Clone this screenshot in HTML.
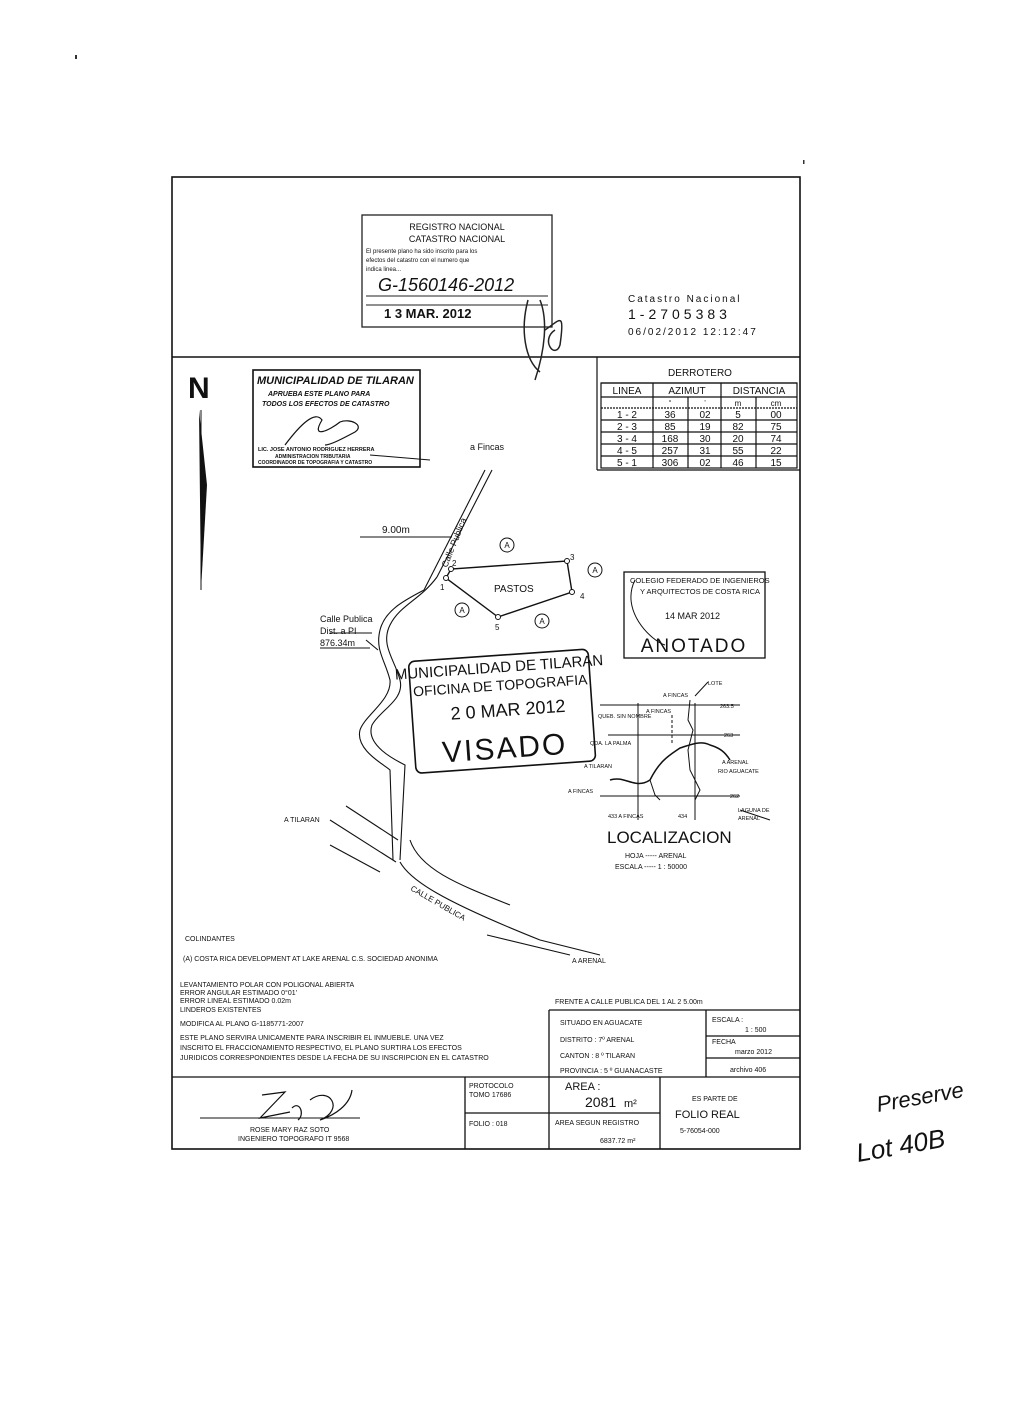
<!DOCTYPE html>
<html><head><meta charset="utf-8"><style>
html,body{margin:0;padding:0;background:#fff}
svg{display:block}
text{font-family:"Liberation Sans",sans-serif;fill:#111}
</style></head><body>
<svg width="1018" height="1408" viewBox="0 0 1018 1408" xmlns="http://www.w3.org/2000/svg">
<rect width="1018" height="1408" fill="#fff"/>
<g stroke="#111" fill="none" stroke-width="1.6">
<rect x="172" y="177" width="628" height="972"/>
<line x1="172" y1="357" x2="800" y2="357"/>
</g>
<!-- registro stamp -->
<rect x="362" y="215" width="190" height="112" fill="none" stroke="#222" stroke-width="1.3"/>
<text x="457" y="230" font-size="9" text-anchor="middle" fill="#444">REGISTRO NACIONAL</text>
<text x="457" y="242" font-size="9" text-anchor="middle" fill="#555">CATASTRO NACIONAL</text>
<text x="366" y="253" font-size="6" fill="#666">El presente plano ha sido inscrito para los</text>
<text x="366" y="262" font-size="6" fill="#666">efectos del catastro con el numero que</text>
<text x="366" y="271" font-size="6" fill="#666">indica linea...</text>
<text x="378" y="291" font-size="18" font-style="italic" fill="#222">G-1560146-2012</text>
<line x1="366" y1="296" x2="548" y2="296" stroke="#222"/>
<line x1="366" y1="305" x2="548" y2="305" stroke="#222"/>
<text x="384" y="318" font-size="13" font-weight="bold" fill="#222">1 3 MAR. 2012</text>
<path d="M528 300 C520 330 525 360 540 372 M540 300 C548 320 545 350 535 380 M545 330 C560 320 565 310 560 345 C555 360 540 340 555 330" stroke="#222" fill="none" stroke-width="1.5"/>
<text x="628" y="302" font-size="10" letter-spacing="2" fill="#333">Catastro Nacional</text>
<text x="628" y="319" font-size="14" letter-spacing="4" fill="#222">1-2705383</text>
<text x="628" y="335" font-size="10" letter-spacing="2" fill="#333">06/02/2012 12:12:47</text>
<!-- N arrow -->
<text x="188" y="398" font-size="30" font-weight="bold" fill="#000">N</text>
<path d="M199 410 L207 485 L201 590 Z" fill="#111"/>
<line x1="201" y1="410" x2="201" y2="590" stroke="#111" stroke-width="1"/>
<!-- municipalidad box -->
<rect x="253" y="370" width="167" height="97" fill="none" stroke="#111" stroke-width="1.6"/>
<text x="257" y="384" font-size="11" font-style="italic" font-weight="bold" font-family="Liberation Serif">MUNICIPALIDAD DE TILARAN</text>
<text x="268" y="396" font-size="7" font-style="italic" font-weight="bold">APRUEBA ESTE PLANO PARA</text>
<text x="262" y="406" font-size="7" font-style="italic" font-weight="bold">TODOS LOS EFECTOS DE CATASTRO</text>
<path d="M285 445 C300 425 315 410 322 420 C310 440 330 430 340 422 C350 418 365 425 355 432 C340 440 330 445 325 445" stroke="#111" fill="none" stroke-width="1.2"/>
<text x="258" y="451" font-size="5.5" font-weight="bold">LIC. JOSE ANTONIO RODRIGUEZ HERRERA</text>
<text x="275" y="458" font-size="5" font-weight="bold">ADMINISTRACION TRIBUTARIA</text>
<text x="258" y="464" font-size="5" font-weight="bold">COORDINADOR DE TOPOGRAFIA Y CATASTRO</text>
<line x1="370" y1="455" x2="430" y2="460" stroke="#111"/>
<!-- derrotero table -->
<g stroke="#111" stroke-width="1.2" fill="none">
<line x1="597" y1="357" x2="597" y2="470"/>
<line x1="597" y1="470" x2="800" y2="470"/>
<line x1="601" y1="383" x2="797" y2="383"/>
<rect x="601" y="383" width="196" height="85"/>
<line x1="601" y1="397" x2="797" y2="397"/>
<line x1="601" y1="408" x2="797" y2="408" stroke-dasharray="2 1"/>
<line x1="601" y1="420" x2="797" y2="420"/>
<line x1="601" y1="432" x2="797" y2="432"/>
<line x1="601" y1="444" x2="797" y2="444"/>
<line x1="601" y1="456" x2="797" y2="456"/>
<line x1="653" y1="383" x2="653" y2="468"/>
<line x1="688" y1="397" x2="688" y2="468"/>
<line x1="721" y1="383" x2="721" y2="468"/>
<line x1="756" y1="397" x2="756" y2="468"/>
</g>
<g font-size="10" text-anchor="middle">
<text x="700" y="376">DERROTERO</text>
<text x="627" y="394">LINEA</text><text x="687" y="394">AZIMUT</text><text x="759" y="394">DISTANCIA</text>
<text x="670" y="405" font-size="7">°</text><text x="705" y="405" font-size="7">'</text><text x="738" y="406" font-size="8">m</text><text x="776" y="406" font-size="8">cm</text>
<text x="627" y="418">1 - 2</text><text x="670" y="418">36</text><text x="705" y="418">02</text><text x="738" y="418">5</text><text x="776" y="418">00</text>
<text x="627" y="430">2 - 3</text><text x="670" y="430">85</text><text x="705" y="430">19</text><text x="738" y="430">82</text><text x="776" y="430">75</text>
<text x="627" y="442">3 - 4</text><text x="670" y="442">168</text><text x="705" y="442">30</text><text x="738" y="442">20</text><text x="776" y="442">74</text>
<text x="627" y="454">4 - 5</text><text x="670" y="454">257</text><text x="705" y="454">31</text><text x="738" y="454">55</text><text x="776" y="454">22</text>
<text x="627" y="466">5 - 1</text><text x="670" y="466">306</text><text x="705" y="466">02</text><text x="738" y="466">46</text><text x="776" y="466">15</text>
</g>
<!-- main drawing -->
<g stroke="#111" fill="none" stroke-width="1.1">
<line x1="424" y1="590" x2="485" y2="470"/>
<line x1="437" y1="577" x2="492" y2="470"/>
<polygon points="446,578 451,569 567,561 572,592 498,617" stroke-width="1.4"/>
<line x1="360" y1="537" x2="452" y2="537"/>
<path d="M437 577 C420 600 400 605 390 625 C380 645 395 660 400 680 C405 700 380 710 372 725 C365 745 395 760 405 765 L400 860"/>
<path d="M424 590 C405 600 385 610 380 630 C375 650 385 660 390 680 C392 700 365 715 360 730 C355 750 385 765 390 770 L393 860"/>
<path d="M366 640 L378 650" />
<line x1="330" y1="820" x2="396" y2="862"/>
<line x1="346" y1="806" x2="398" y2="840"/>
<line x1="330" y1="845" x2="380" y2="872"/>
<path d="M400 862 C410 880 440 900 540 940 L600 955"/>
<path d="M410 840 C420 870 460 885 510 905"/>
<line x1="487" y1="935" x2="570" y2="955"/>
<line x1="330" y1="633" x2="372" y2="633"/>
</g>
<g fill="#fff" stroke="#111" stroke-width="1"><circle cx="446" cy="578" r="2.5"/><circle cx="451" cy="569" r="2.5"/><circle cx="567" cy="561" r="2.5"/><circle cx="572" cy="592" r="2.5"/><circle cx="498" cy="617" r="2.5"/></g>
<g font-size="8"><text x="440" y="590">1</text><text x="452" y="566">2</text><text x="570" y="560">3</text><text x="580" y="599">4</text><text x="495" y="630">5</text></g>
<text x="494" y="592" font-size="10">PASTOS</text>
<g fill="none" stroke="#111"><circle cx="507" cy="545" r="7"/><circle cx="595" cy="570" r="7"/><circle cx="462" cy="610" r="7"/><circle cx="542" cy="621" r="7"/></g>
<g font-size="8" text-anchor="middle"><text x="507" y="548">A</text><text x="595" y="573">A</text><text x="462" y="613">A</text><text x="542" y="624">A</text></g>
<text x="470" y="450" font-size="9">a Fincas</text>
<text x="382" y="533" font-size="10">9.00m</text>
<text x="0" y="0" font-size="9" transform="translate(447,568) rotate(-68)">Calle Publica</text>
<text x="320" y="622" font-size="9">Calle Publica</text>
<text x="320" y="634" font-size="9">Dist. a PI</text>
<text x="320" y="646" font-size="9">876.34m</text>
<line x1="320" y1="648" x2="370" y2="648" stroke="#111"/>
<text x="284" y="822" font-size="7">A TILARAN</text>
<text x="0" y="0" font-size="8" transform="translate(410,890) rotate(30)">CALLE PUBLICA</text>
<text x="572" y="963" font-size="7">A ARENAL</text>
<!-- VISADO stamp -->
<g transform="rotate(-4 505 710)">
<rect x="412" y="655" width="180" height="112" rx="6" fill="none" stroke="#111" stroke-width="1.6"/>
<text x="502" y="672" font-size="15" text-anchor="middle" font-family="Liberation Serif">MUNICIPALIDAD DE TILARAN</text>
<text x="502" y="690" font-size="14" text-anchor="middle">OFICINA DE TOPOGRAFIA</text>
<text x="508" y="716" font-size="18" text-anchor="middle">2 0  MAR  2012</text>
<text x="502" y="758" font-size="30" text-anchor="middle" letter-spacing="2">VISADO</text>
</g>
<!-- ANOTADO -->
<rect x="624" y="572" width="141" height="86" fill="none" stroke="#111" stroke-width="1.3"/>
<text x="630" y="583" font-size="7.5">COLEGIO FEDERADO DE INGENIEROS</text>
<text x="640" y="594" font-size="7.5">Y ARQUITECTOS DE COSTA RICA</text>
<text x="665" y="619" font-size="9" fill="#999">14 MAR 2012</text>
<text x="694" y="652" font-size="19" text-anchor="middle" letter-spacing="2">ANOTADO</text>
<path d="M635 580 C620 610 650 640 665 645" stroke="#111" fill="none"/>
<!-- localization map -->
<g stroke="#111" fill="none" stroke-width="1">
<line x1="638" y1="703" x2="638" y2="820"/>
<line x1="695" y1="703" x2="695" y2="820"/>
<line x1="600" y1="705" x2="740" y2="705"/>
<line x1="608" y1="735" x2="740" y2="735"/>
<line x1="600" y1="796" x2="740" y2="796"/>
<path d="M610 780 C625 775 635 790 650 780 C660 760 670 755 680 748 C690 745 700 740 710 745 C720 748 725 752 730 760" stroke-width="1.5"/>
<path d="M650 780 L655 795 L660 800"/>
<path d="M690 700 L688 720 L693 730 L688 750 L690 770 L700 790 L695 800"/>
<line x1="672" y1="715" x2="672" y2="745" stroke-dasharray="3 2"/>
<line x1="740" y1="810" x2="770" y2="820"/>
<line x1="695" y1="696" x2="708" y2="682"/>
</g>
<g font-size="5.5">
<text x="663" y="697">A FINCAS</text><text x="708" y="685">LOTE</text><text x="720" y="708">263.5</text>
<text x="646" y="713">A FINCAS</text><text x="598" y="718">QUEB. SIN NOMBRE</text><text x="724" y="737">263</text>
<text x="590" y="745">QDA. LA PALMA</text><text x="722" y="764">A ARENAL</text><text x="718" y="773">RIO AGUACATE</text>
<text x="584" y="768">A TILARAN</text><text x="568" y="793">A FINCAS</text><text x="730" y="798">262</text>
<text x="608" y="818">433 A FINCAS</text><text x="678" y="818">434</text><text x="738" y="812">LAGUNA DE</text><text x="738" y="820">ARENAL</text>
</g>
<text x="607" y="843" font-size="17">LOCALIZACION</text>
<text x="625" y="858" font-size="7">HOJA ----- ARENAL</text>
<text x="615" y="869" font-size="7">ESCALA ----- 1 : 50000</text>
<!-- bottom text -->
<g font-size="7">
<text x="185" y="941">COLINDANTES</text>
<text x="183" y="961">(A) COSTA RICA DEVELOPMENT AT LAKE ARENAL C.S. SOCIEDAD ANONIMA</text>
<text x="180" y="987">LEVANTAMIENTO POLAR CON POLIGONAL ABIERTA</text>
<text x="180" y="995">ERROR ANGULAR ESTIMADO  0°01'</text>
<text x="180" y="1003">ERROR LINEAL ESTIMADO  0.02m</text>
<text x="180" y="1012">LINDEROS EXISTENTES</text>
<text x="180" y="1026">MODIFICA AL PLANO G-1185771-2007</text>
<text x="180" y="1040">ESTE PLANO SERVIRA UNICAMENTE PARA INSCRIBIR EL INMUEBLE. UNA VEZ</text>
<text x="180" y="1050">INSCRITO EL FRACCIONAMIENTO RESPECTIVO, EL PLANO SURTIRA LOS EFECTOS</text>
<text x="180" y="1060">JURIDICOS CORRESPONDIENTES DESDE LA FECHA DE SU INSCRIPCION EN EL CATASTRO</text>
<text x="555" y="1004">FRENTE A CALLE PUBLICA DEL 1 AL 2 5.00m</text>
<text x="560" y="1025">SITUADO EN    AGUACATE</text>
<text x="560" y="1042">DISTRITO :   7º ARENAL</text>
<text x="560" y="1058">CANTON :    8 º TILARAN</text>
<text x="560" y="1073">PROVINCIA :   5 º GUANACASTE</text>
<text x="712" y="1022">ESCALA :</text><text x="745" y="1032">1 : 500</text>
<text x="712" y="1044">FECHA</text><text x="735" y="1054">marzo 2012</text>
<text x="730" y="1072">archivo 406</text>
<text x="469" y="1088">PROTOCOLO</text><text x="469" y="1097">TOMO    17686</text>
<text x="469" y="1126">FOLIO :  018</text>
<text x="555" y="1125">AREA SEGUN REGISTRO</text>
<text x="600" y="1143">6837.72 m²</text>
<text x="692" y="1101">ES PARTE DE</text>
<text x="680" y="1133">5-76054-000</text>
<text x="250" y="1132">ROSE MARY RAZ SOTO</text>
<text x="238" y="1141">INGENIERO TOPOGRAFO IT 9568</text>
</g>
<text x="565" y="1090" font-size="11">AREA :</text>
<text x="585" y="1107" font-size="14">2081</text><text x="624" y="1107" font-size="11">m²</text>
<text x="675" y="1118" font-size="11">FOLIO REAL</text>
<g stroke="#111" stroke-width="1.3" fill="none">
<line x1="549" y1="1010" x2="800" y2="1010"/>
<line x1="549" y1="1010" x2="549" y2="1149"/>
<line x1="706" y1="1010" x2="706" y2="1077"/>
<line x1="706" y1="1036" x2="800" y2="1036"/>
<line x1="706" y1="1058" x2="800" y2="1058"/>
<line x1="172" y1="1077" x2="800" y2="1077"/>
<line x1="465" y1="1077" x2="465" y2="1149"/>
<line x1="660" y1="1077" x2="660" y2="1149"/>
<line x1="465" y1="1113" x2="660" y2="1113"/>
<line x1="200" y1="1118" x2="360" y2="1118" stroke-width="1"/>
<path d="M262 1095 L285 1092 L260 1118 L290 1112 M292 1108 C300 1100 305 1115 298 1120 M310 1100 C330 1085 345 1110 320 1120 C335 1115 350 1105 352 1090" stroke-width="1.2"/>
</g>
<!-- handwritten -->
<text x="0" y="0" font-size="22" font-style="italic" font-family="Liberation Serif" transform="translate(878,1112) rotate(-10)">Preserve</text>
<text x="0" y="0" font-size="26" font-style="italic" font-family="Liberation Serif" transform="translate(858,1162) rotate(-10)">Lot 40B</text>
<rect x="75" y="55" width="2" height="4" fill="#333"/>
<rect x="803" y="160" width="1.5" height="4" fill="#333"/>
</svg>
</body></html>
